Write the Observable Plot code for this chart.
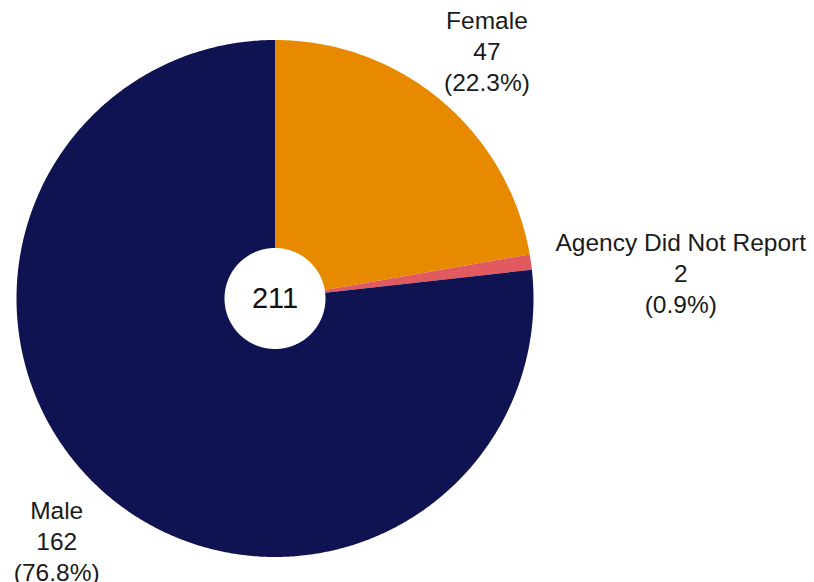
<!DOCTYPE html>
<html><head><meta charset="utf-8">
<script src="https://cdn.jsdelivr.net/npm/d3@7"></script>
<script src="https://cdn.jsdelivr.net/npm/@observablehq/plot@0.6"></script>
<style>body{margin:0;background:#fff}</style>
</head><body><div id="chart"></div>
<script>
// ---- data ----
const categories = ["Female", "Agency Did Not Report", "Male"];
const counts = [47, 2, 162];
const percents = ["22.3%", "0.9%", "76.8%"];
const total = 211;
const colors = ["#E88A00", "#E05A5F", "#0F1352"];

// ---- layout ----
const W = 814, H = 582;
const cx = 274.5, cy = 298, R = 258.5, innerR = 50.5;
const innerRatio = innerR / R;
const labelLayout = [
  {k: 1.255, dx: 3, dy: 0},
  {k: 1.57, dx: 4, dy: 31},
  {k: 1.267, dx: 0, dy: -3}
];
const fontFamily = "'Liberation Sans', Arial, sans-serif";

// ---- build slices from data ----
const sum = d3.sum(counts);
const slicePts = [];
const labels = [];
let acc = 0;
categories.forEach((cat, i) => {
  const a0 = acc / sum * 2 * Math.PI;
  acc += counts[i];
  const a1 = acc / sum * 2 * Math.PI;
  const n = Math.max(2, Math.ceil((a1 - a0) / (Math.PI / 360)));
  for (let j = 0; j <= n; j++) {
    const a = a0 + (a1 - a0) * j / n;
    slicePts.push({cat, x: Math.sin(a), y: Math.cos(a)});
  }
  for (let j = n; j >= 0; j--) {
    const a = a0 + (a1 - a0) * j / n;
    slicePts.push({cat, x: innerRatio * Math.sin(a), y: innerRatio * Math.cos(a)});
  }
  const am = (a0 + a1) / 2;
  const L = labelLayout[i];
  labels.push({
    x: L.k * Math.sin(am), y: L.k * Math.cos(am),
    dx: L.dx, dy: L.dy,
    text: `${cat}\n${counts[i]}\n(${percents[i]})`
  });
});

const plot = Plot.plot({
  width: W, height: H,
  marginTop: 0, marginRight: 0, marginBottom: 0, marginLeft: 0,
  x: {domain: [-1, 1], range: [cx - R, cx + R], axis: null},
  y: {domain: [-1, 1], range: [cy + R, cy - R], axis: null},
  color: {domain: categories, range: colors},
  style: {background: "#fff"},
  marks: [
    Plot.line(slicePts, {x: "x", y: "y", z: "cat", fill: "cat", stroke: null, curve: "linear-closed"}),
    ...labels.map(l => Plot.text([l], {
      x: "x", y: "y", text: "text", dx: l.dx, dy: l.dy,
      fontSize: 24.5, lineHeight: 1.265, fill: "#1a1a1a", fontFamily
    })),
    Plot.text([total], {x: () => 0, y: () => 0, text: d => String(d), fontSize: 29, fill: "#111", fontFamily})
  ]
});
document.getElementById("chart").appendChild(plot);
</script>
</body></html>
